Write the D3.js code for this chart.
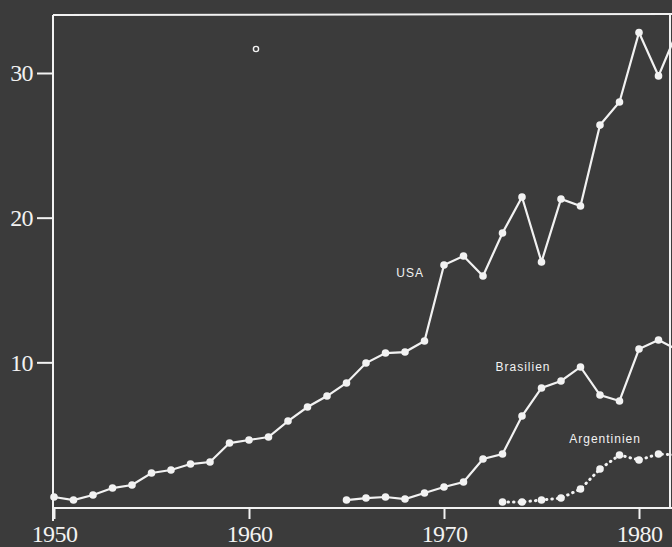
<!DOCTYPE html>
<html>
<head>
<meta charset="utf-8">
<script src="https://cdn.jsdelivr.net/npm/d3@7"></script>
<style>
  html, body { margin: 0; padding: 0; background: #3b3b3b; }
  svg { display: block; }
</style>
</head>
<body>
<svg id="chart" width="672" height="547"></svg>
<script>
// Series data (values per year)
const usaYears = [1950,1951,1952,1953,1954,1955,1956,1957,1958,1959,1960,1961,1962,1963,1964,1965,1966,1967,1968,1969,1970,1971,1972,1973,1974,1975,1976,1977,1978,1979,1980,1981,1982];
const usaValues = [0.69,0.48,0.83,1.31,1.52,2.35,2.56,2.97,3.11,4.42,4.63,4.84,5.94,6.91,7.67,8.57,9.95,10.64,10.71,11.47,16.73,17.35,15.97,18.94,21.43,16.94,21.29,20.81,26.4,28.0,32.8,29.8,33.0];

const brasilYears = [1965,1966,1967,1968,1969,1970,1971,1972,1973,1974,1975,1976,1977,1978,1979,1980,1981,1982];
const brasilValues = [0.48,0.62,0.69,0.55,0.97,1.38,1.73,3.32,3.66,6.29,8.23,8.71,9.68,7.74,7.33,10.92,11.54,10.85];

const argYears = [1973,1974,1975,1976,1977,1978,1979,1980,1981,1982];
const argValues = [0.35,0.35,0.48,0.62,1.24,2.63,3.59,3.25,3.66,3.6];

const xTickValues = [1950, 1960, 1970, 1980];
const yTickValues = [10, 20, 30];
const seriesLabels = ["USA", "Brasilien", "Argentinien"];

const ink = "#f2f2f2";
const svg = d3.select("#chart");

const x = d3.scaleLinear().domain([1950, 1980]).range([54, 639]);
const y = d3.scaleLinear().domain([0, 30]).range([507, 73]);

// Frame
const frame = svg.append("g").attr("stroke", ink).attr("stroke-width", 2).attr("fill", "none");
frame.append("line").attr("x1", 53).attr("x2", 672).attr("y1", 15).attr("y2", 14);
frame.append("line").attr("x1", 53).attr("x2", 53).attr("y1", 15).attr("y2", 521);
frame.append("line").attr("x1", 53).attr("x2", 672).attr("y1", 508).attr("y2", 508);
frame.append("line").attr("x1", 670).attr("x2", 670).attr("y1", 14).attr("y2", 508);

// Axes
const xAxis = svg.append("g")
  .attr("transform", "translate(0,508)")
  .call(d3.axisBottom(x).tickValues(xTickValues).tickFormat(d3.format("d")).tickSize(11).tickPadding(6));
const yAxis = svg.append("g")
  .attr("transform", "translate(53,0)")
  .call(d3.axisLeft(y).tickValues(yTickValues).tickFormat(d3.format("d")).tickSize(16).tickPadding(4));

[xAxis, yAxis].forEach(g => {
  g.select(".domain").remove();
  g.selectAll(".tick line").attr("stroke", ink).attr("stroke-width", 2);
  g.selectAll(".tick text")
    .attr("fill", ink)
    .style("font-family", "'Liberation Serif', 'DejaVu Serif', serif")
    .style("font-size", "24px")
    .style("letter-spacing", "-0.6px");
});

// Lines and markers
const line = d3.line().x(d => x(d[0])).y(d => y(d[1]));

function drawSeries(years, values, dashed) {
  const pts = years.map((yr, i) => [yr, values[i]]);
  svg.append("path")
    .datum(pts)
    .attr("d", line)
    .attr("fill", "none")
    .attr("stroke", ink)
    .attr("stroke-width", dashed ? 3 : 2.2)
    .attr("stroke-linecap", "round")
    .attr("stroke-dasharray", dashed ? "0.5,5" : null);
  svg.append("g").selectAll("circle")
    .data(pts)
    .join("circle")
    .attr("cx", d => x(d[0]))
    .attr("cy", d => y(d[1]))
    .attr("r", 3.8)
    .attr("fill", ink);
}

drawSeries(usaYears, usaValues, false);
drawSeries(brasilYears, brasilValues, false);
drawSeries(argYears, argValues, true);

// Series labels
const labelPos = [[1968.26, 16.17], [1974.05, 9.68], [1978.26, 4.7]];
svg.append("g").selectAll("text")
  .data(seriesLabels)
  .join("text")
  .attr("x", (d, i) => x(labelPos[i][0]))
  .attr("y", (d, i) => y(labelPos[i][1]))
  .attr("text-anchor", "middle")
  .attr("dominant-baseline", "central")
  .attr("fill", ink)
  .style("font-family", "'Liberation Sans', Arial, sans-serif")
  .style("font-size", "12px")
  .style("letter-spacing", "1px")
  .text(d => d);

// Small open ring near the top
svg.append("circle")
  .attr("cx", 256).attr("cy", 49).attr("r", 2.6)
  .attr("fill", "none").attr("stroke", ink).attr("stroke-width", 1.4);
</script>
</body>
</html>
